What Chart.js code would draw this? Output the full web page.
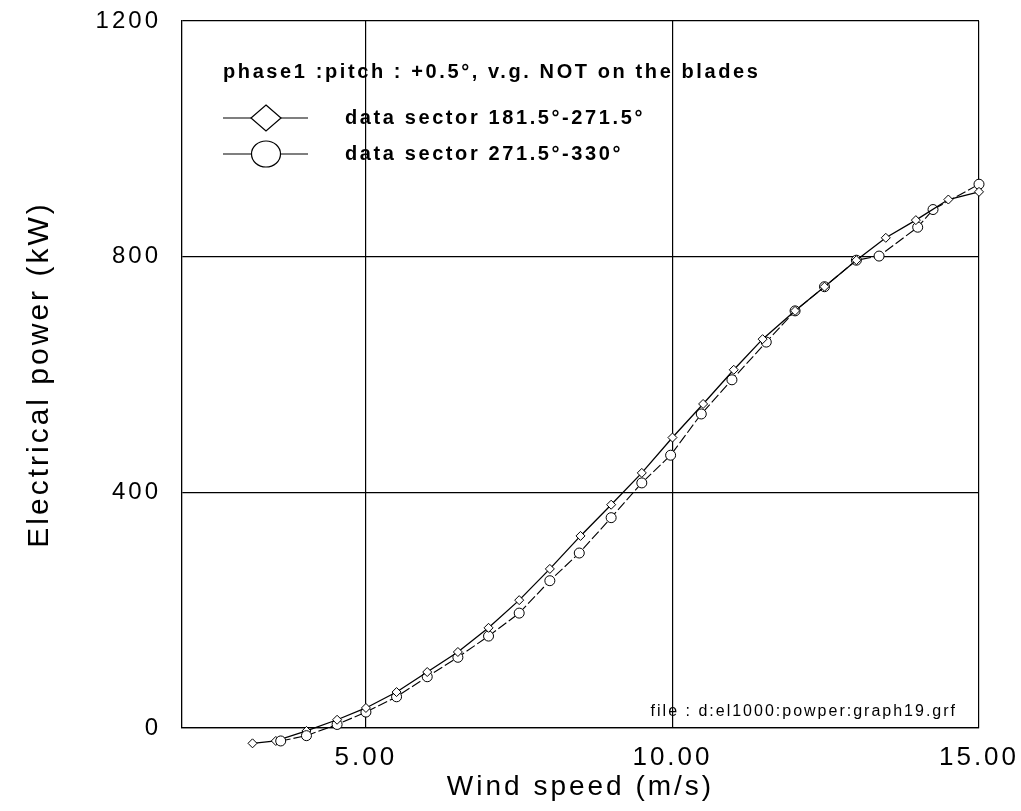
<!DOCTYPE html>
<html>
<head>
<meta charset="utf-8">
<title>Electrical power vs wind speed</title>
<script src="https://cdn.jsdelivr.net/npm/chart.js@4.4.1/dist/chart.umd.min.js"></script>
<style>
  html, body { margin: 0; padding: 0; background: #fff; }
  #wrap { width: 1021px; height: 811px; }
</style>
</head>
<body>
<div id="wrap"><canvas id="powerChart" width="1021" height="811"></canvas></div>
<script>
const legendTitle = 'phase1 :pitch : +0.5°, v.g. NOT on the blades';
const labelA = 'data sector 181.5°-271.5°';
const labelB = 'data sector 271.5°-330°';
const fileNote = 'file : d:el1000:powper:graph19.grf';

// sector 181.5-271.5 (diamonds, solid)
const speedA = [3.15, 3.53, 4.03, 4.53, 5.0, 5.5, 6.0, 6.5, 7.0, 7.5, 8.0, 8.5, 9.0, 9.5, 10.0, 10.5, 11.0, 11.47, 12.0, 12.48, 13.0, 13.48, 13.97, 14.5, 15.0];
const powerA = [-26, -22, -5, 14, 34, 61, 95, 129, 170, 217, 270, 326, 379, 433, 493, 550, 608, 660, 708, 749, 794, 832, 862, 897, 910];

// sector 271.5-330 (circles, dashed)
const speedB = [3.61, 4.03, 4.53, 5.0, 5.5, 6.0, 6.5, 7.0, 7.5, 8.0, 8.48, 9.0, 9.5, 9.97, 10.47, 10.97, 11.53, 12.0, 12.48, 13.0, 13.37, 14.0, 14.25, 15.0];
const powerB = [-22, -13, 6, 27, 53, 87, 120, 156, 195, 250, 297, 357, 416, 463, 533, 591, 655, 708, 749, 794, 801, 850, 880, 923];

const xTicks = [5, 10, 15];
const yTicks = [0, 400, 800, 1200];

const FONT = '"Liberation Sans", Arial, Helvetica, sans-serif';

function toPoints(xs, ys) {
  return xs.map((x, i) => ({ x: x, y: ys[i] }));
}

// chart.js has no letter spacing option, so set it on the context for the axes
const spacing = {
  id: 'spacing',
  beforeDraw(chart) { chart.ctx.letterSpacing = '3px'; },
  afterDraw(chart) { chart.ctx.letterSpacing = '0px'; }
};

// points below the x axis are skipped by chart.js even with clip:false
const outsidePoints = {
  id: 'outsidePoints',
  afterDatasetsDraw(chart) {
    const area = { left: 0, top: 0, right: chart.width, bottom: chart.height };
    chart.data.datasets.forEach((ds, i) => {
      chart.getDatasetMeta(i).data.forEach((pt) => {
        if (!chart.isPointInArea(pt)) pt.draw(chart.ctx, area);
      });
    });
  }
};

const notes = {
  id: 'notes',
  afterDraw(chart) {
    const ctx = chart.ctx;
    ctx.save();
    ctx.fillStyle = '#000';
    ctx.strokeStyle = '#000';
    ctx.lineWidth = 1.2;
    ctx.setLineDash([]);
    ctx.font = 'bold 20px ' + FONT;
    ctx.letterSpacing = '2.6px';
    ctx.textBaseline = 'middle';
    ctx.textAlign = 'left';
    ctx.fillText(legendTitle, 223, 72);

    chart.data.datasets.forEach((ds, i) => {
      const y = 118 + i * 36;
      ctx.beginPath();
      ctx.moveTo(223, y);
      ctx.lineTo(308, y);
      ctx.stroke();
      ctx.beginPath();
      if (i === 0) {
        ctx.moveTo(266, y - 13);
        ctx.lineTo(281, y);
        ctx.lineTo(266, y + 13);
        ctx.lineTo(251, y);
        ctx.closePath();
      } else {
        ctx.ellipse(266, y, 14.5, 13, 0, 0, Math.PI * 2);
      }
      ctx.fillStyle = '#fff';
      ctx.fill();
      ctx.stroke();
      ctx.fillStyle = '#000';
      ctx.fillText(ds.label, 345, y);
    });

    ctx.font = '16px ' + FONT;
    ctx.letterSpacing = '2px';
    ctx.textAlign = 'right';
    ctx.fillText(fileNote, 957, 712);
    ctx.restore();
  }
};

const ctx = document.getElementById('powerChart').getContext('2d');
const chart = new Chart(ctx, {
  type: 'scatter',
  data: {
    datasets: [
      {
        label: labelA,
        data: toPoints(speedA, powerA),
        showLine: true,
        borderColor: '#000',
        borderWidth: 1.3,
        pointStyle: 'rectRot',
        pointRadius: 4.5,
        pointBorderWidth: 1,
        pointBackgroundColor: '#fff',
        pointBorderColor: '#000',
        clip: false
      },
      {
        label: labelB,
        data: toPoints(speedB, powerB),
        showLine: true,
        borderColor: '#000',
        borderWidth: 1.1,
        borderDash: [10, 3],
        pointStyle: 'circle',
        pointRadius: 5,
        pointBorderWidth: 1,
        pointBackgroundColor: '#fff',
        pointBorderColor: '#000',
        clip: false
      }
    ]
  },
  options: {
    responsive: false,
    animation: false,
    events: [],
    layout: { padding: { top: 21, right: 42, left: 0, bottom: 0 } },
    plugins: {
      legend: { display: false },
      tooltip: { enabled: false },
      title: { display: false }
    },
    scales: {
      x: {
        type: 'linear',
        min: 2,
        max: 15,
        afterBuildTicks: (axis) => { axis.ticks = xTicks.map(v => ({ value: v })); },
        afterFit: (scale) => {
          scale.height = 83;
          scale.paddingLeft = 0;
          scale.paddingRight = 0;
        },
        grid: { color: '#000', lineWidth: 1.2, drawTicks: false },
        border: { color: '#000', width: 1.3 },
        ticks: {
          color: '#000',
          padding: 14,
          maxRotation: 0,
          font: { family: FONT, size: 26 },
          callback: (v) => Number(v).toFixed(2)
        },
        title: {
          display: true,
          text: 'Wind speed (m/s)',
          color: '#000',
          font: { family: FONT, size: 28 },
          padding: { top: 0, bottom: 7 }
        }
      },
      y: {
        type: 'linear',
        min: 0,
        max: 1200,
        afterBuildTicks: (axis) => { axis.ticks = yTicks.map(v => ({ value: v })); },
        afterFit: (scale) => {
          scale.width = 182;
          scale.paddingTop = 0;
          scale.paddingBottom = 0;
        },
        grid: { color: '#000', lineWidth: 1.2, drawTicks: false },
        border: { color: '#000', width: 1.3 },
        ticks: {
          color: '#000',
          padding: 21,
          font: { family: FONT, size: 24 },
          callback: (v) => String(v)
        },
        title: {
          display: true,
          text: 'Electrical power (kW)',
          color: '#000',
          font: { family: FONT, size: 30 },
          padding: { top: 22, bottom: 0 }
        }
      }
    }
  },
  plugins: [spacing, outsidePoints, notes]
});
</script>
</body>
</html>
